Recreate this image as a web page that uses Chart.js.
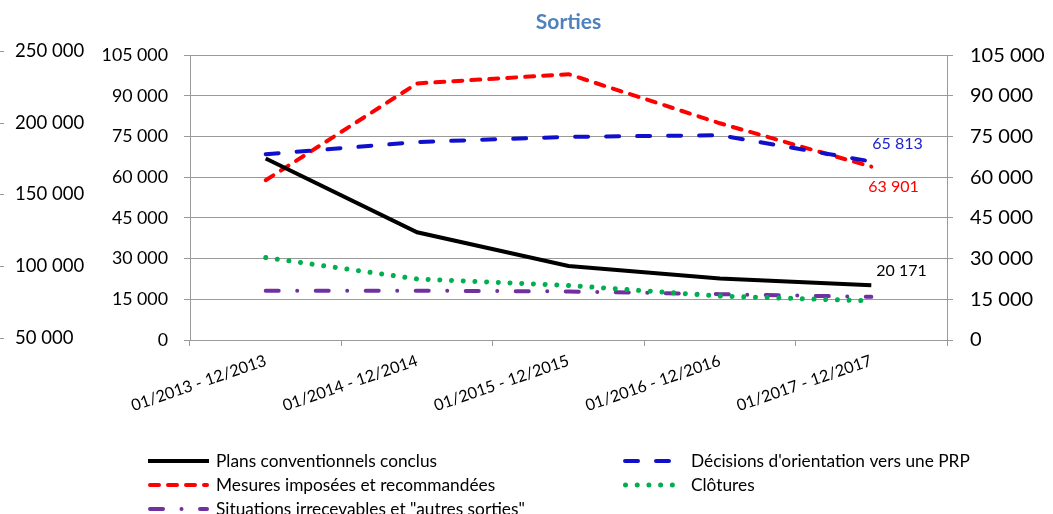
<!DOCTYPE html>
<html><head><meta charset="utf-8">
<script src="https://cdn.jsdelivr.net/npm/chart.js@4/dist/chart.umd.min.js"></script>
<style>html,body{margin:0;padding:0;background:#fff;} #wrap{width:1053px;height:514px;position:relative;}</style>
</head><body><div id="wrap"><canvas id="c"></canvas></div>
<script>
const categories = ['01/2013 - 12/2013', '01/2014 - 12/2014', '01/2015 - 12/2015', '01/2016 - 12/2016', '01/2017 - 12/2017'];
const plansConclus = [66900, 39700, 27300, 22700, 20171];
const decisionsPRP = [68500, 73000, 74900, 75500, 65813];
const mesures = [58900, 94600, 98000, 79900, 63901];
const clotures = [30400, 22500, 20100, 16200, 14400];
const situations = [18200, 18200, 17900, 16900, 15900];
const mainTicks = [0, 15000, 30000, 45000, 60000, 75000, 90000, 105000];
const outerTicks = [50000, 100000, 150000, 200000, 250000];

const fmt = v => String(v).replace(/\B(?=(\d{3})+(?!\d))/g, ' ');
const FONT = 'Lato, "Open Sans", sans-serif';
Chart.defaults.color = '#000';
Chart.defaults.font.family = FONT;
const GRID = '#9a9a9a';

const datasets = [
  {label: 'Plans conventionnels conclus', data: plansConclus, borderColor: '#000000', borderWidth: 4, borderDash: [], borderCapStyle: 'butt', endLabel: {dx: 5, dy: -14, color: '#000000'}},
  {label: "Décisions d'orientation vers une PRP", data: decisionsPRP, borderColor: '#1010CC', borderWidth: 4, borderDash: [13, 18], borderCapStyle: 'round', endLabel: {dx: 1, dy: -18, color: '#2020D0'}},
  {label: 'Mesures imposées et recommandées', data: mesures, borderColor: '#FF0000', borderWidth: 4, borderDash: [9, 9], borderCapStyle: 'round', endLabel: {dx: -3, dy: 20, color: '#FF0000'}},
  {label: 'Clôtures', data: clotures, borderColor: '#00B050', borderWidth: 5, borderDash: [0.01, 11.7], borderCapStyle: 'round'},
  {label: 'Situations irrecevables et "autres sorties"', data: situations, borderColor: '#7030A0', borderWidth: 4, borderDash: [13, 18.5, 0.01, 18.5], borderCapStyle: 'round'}
].map(d => Object.assign({yAxisID: 'y', pointRadius: 0, pointHoverRadius: 0, tension: 0, fill: false, backgroundColor: d.borderColor}, d));

const endLabelPlugin = {
  id: 'endLabels',
  afterDatasetsDraw(chart) {
    const ctx = chart.ctx;
    chart.data.datasets.forEach((ds, i) => {
      if (!ds.endLabel) return;
      const meta = chart.getDatasetMeta(i);
      const last = meta.data.length - 1;
      const pt = meta.data[last];
      ctx.save();
      ctx.font = '16px ' + FONT;
      ctx.fillStyle = ds.endLabel.color;
      ctx.textAlign = 'left';
      ctx.textBaseline = 'middle';
      ctx.fillText(fmt(ds.data[last]), pt.x + ds.endLabel.dx, pt.y + ds.endLabel.dy);
      ctx.restore();
    });
  }
};

const outerMarksPlugin = {
  id: 'outerMarks',
  afterDraw(chart) {
    const s = chart.scales.yo;
    const ctx = chart.ctx;
    ctx.save();
    ctx.strokeStyle = GRID;
    ctx.lineWidth = 1;
    s.ticks.forEach(t => {
      const y = Math.round(s.getPixelForValue(t.value)) + 0.5;
      ctx.beginPath(); ctx.moveTo(0, y); ctx.lineTo(4, y); ctx.stroke();
    });
    ctx.restore();
  }
};

const legendPlugin = {
  id: 'customLegend',
  afterDraw(chart) {
    const ctx = chart.ctx;
    const cols = [148, 623];
    const rowTop = chart.chartArea.bottom + 121;
    const rowH = 24;
    const sampleW = 61;
    ctx.save();
    chart.data.datasets.forEach((ds, i) => {
      const x = cols[i % 2];
      const y = rowTop + Math.floor(i / 2) * rowH;
      ctx.strokeStyle = ds.borderColor;
      ctx.lineWidth = ds.borderWidth;
      ctx.lineCap = ds.borderCapStyle;
      ctx.setLineDash(ds.borderDash);
      ctx.beginPath();
      const inset = ds.borderCapStyle === 'round' ? ds.borderWidth / 2 : 0;
      ctx.moveTo(x + inset, y); ctx.lineTo(x + sampleW - inset, y); ctx.stroke();
      ctx.setLineDash([]);
      ctx.fillStyle = '#000';
      ctx.font = '17.3px ' + FONT;
      ctx.textAlign = 'left';
      ctx.textBaseline = 'middle';
      ctx.fillText(ds.label, x + sampleW + 7, y);
    });
    ctx.restore();
  }
};

new Chart(document.getElementById('c'), {
  type: 'line',
  data: {labels: categories, datasets},
  options: {
    responsive: true,
    maintainAspectRatio: false,
    animation: false,
    layout: {padding: {left: 15, right: 0, top: 0, bottom: 74}},
    plugins: {
      legend: {display: false},
      tooltip: {enabled: false},
      title: {display: true, text: 'Sorties', color: '#4F81BD', fullSize: false,
        font: {size: 21, weight: 'bold', family: FONT, lineHeight: 1.2}, padding: {top: 10, bottom: 20}}
    },
    scales: {
      x: {
        offset: true,
        grid: {offset: true, drawOnChartArea: false, color: GRID, tickLength: 6},
        border: {color: GRID},
        ticks: {minRotation: 19, maxRotation: 19, font: {size: 16.2}, padding: 5, color: '#000'},
        afterFit: s => { s.height = 100; }
      },
      yo: {
        position: 'left', weight: 2, min: 48600, max: 247000,
        afterBuildTicks: s => { s.ticks = outerTicks.map(v => ({value: v})); },
        grid: {display: false}, border: {display: false},
        ticks: {crossAlign: 'far', font: {size: 18.5}, callback: v => fmt(v), color: '#000'},
        afterFit: s => { s.width = 75; }
      },
      y: {
        position: 'left', weight: 1, min: 0, max: 105000,
        afterBuildTicks: s => { s.ticks = mainTicks.map(v => ({value: v})); },
        grid: {color: GRID, tickLength: 6},
        border: {color: GRID},
        ticks: {padding: 16, font: {size: 17.8}, callback: v => fmt(v), color: '#000'},
        afterFit: s => { s.width = 100; }
      },
      y2: {
        position: 'right', min: 0, max: 105000,
        afterBuildTicks: s => { s.ticks = mainTicks.map(v => ({value: v})); },
        grid: {drawOnChartArea: false, color: GRID, tickLength: 6},
        border: {color: GRID},
        ticks: {padding: 17, font: {size: 20}, callback: v => fmt(v), color: '#000'},
        afterFit: s => { s.width = 106; }
      }
    }
  },
  plugins: [endLabelPlugin, outerMarksPlugin, legendPlugin]
});
</script></body></html>
